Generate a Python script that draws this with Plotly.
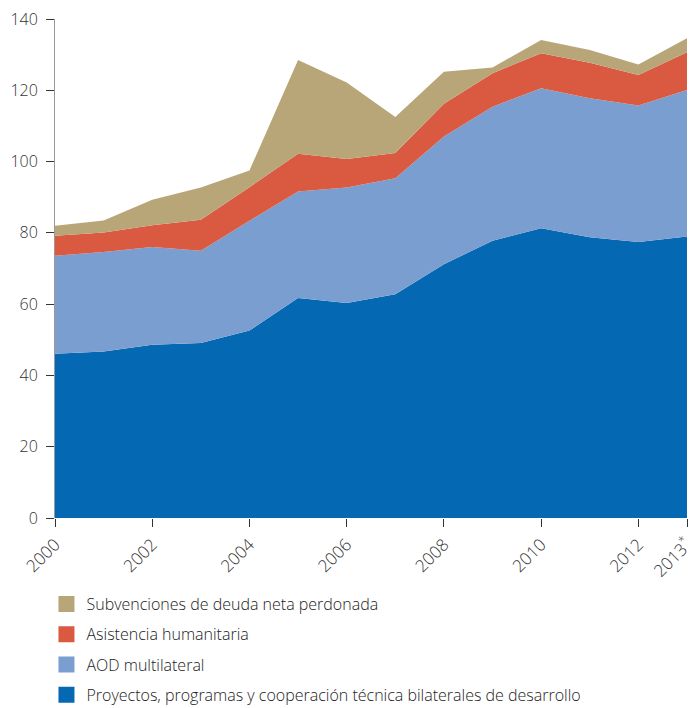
import plotly.graph_objects as go

years = [2000, 2001, 2002, 2003, 2004, 2005, 2006, 2007, 2008, 2009, 2010, 2011, 2012, 2013]
bilateral = [46.1, 46.7, 48.6, 49.1, 52.6, 61.7, 60.3, 62.8, 71.2, 77.8, 81.3, 78.8, 77.4, 79.0]
multilateral = [27.5, 27.9, 27.4, 25.9, 30.8, 29.9, 32.4, 32.5, 35.8, 37.6, 39.3, 39.0, 38.3, 41.1]
humanitarian = [5.6, 5.5, 6.1, 8.7, 9.4, 10.6, 8.0, 7.1, 9.2, 9.4, 9.8, 9.9, 8.6, 10.6]
debt = [2.8, 3.4, 7.2, 9.0, 4.7, 26.3, 21.5, 10.1, 9.0, 1.6, 3.7, 3.6, 2.9, 3.9]

tick_vals = [2000, 2002, 2004, 2006, 2008, 2010, 2012, 2013]
tick_text = ["2000", "2002", "2004", "2006", "2008", "2010", "2012", "2013<sup>*</sup>"]

names = [
    "Proyectos, programas y cooperación técnica bilaterales de desarrollo",
    "AOD multilateral",
    "Asistencia humanitaria",
    "Subvenciones de deuda neta perdonada",
]
colors = ["#0568B2", "#7A9ED0", "#DA5A41", "#B8A678"]
series = [bilateral, multilateral, humanitarian, debt]

fig = go.Figure()
for name, col, vals in zip(names, colors, series):
    fig.add_trace(go.Scatter(
        x=years, y=vals, stackgroup="one", mode="none",
        fillcolor=col, name=name, showlegend=False, hoverinfo="skip",
    ))

# legend entries (top to bottom: debt, humanitarian, multilateral, bilateral)
for i, (name, col) in enumerate(reversed(list(zip(names, colors)))):
    fig.add_trace(go.Scatter(
        x=[None], y=[None], mode="markers", name=name,
        marker=dict(symbol="square", size=17, color=col),
        legendgroup=f"g{i}", showlegend=True,
    ))

font_family = "'Open Sans', Lato, sans-serif"
fig.update_layout(
    width=695, height=708,
    margin=dict(l=55, r=8, t=19, b=190, autoexpand=False),
    paper_bgcolor="white", plot_bgcolor="white",
    font=dict(family=font_family, size=16, color="#333333", weight=300),
    showlegend=True,
    legend=dict(
        orientation="v", xref="paper", yref="paper",
        x=-0.0135, y=-0.1383, xanchor="left", yanchor="top",
        tracegroupgap=6.5, font=dict(size=16, color="#222222", weight=300),
        itemsizing="trace", bgcolor="rgba(0,0,0,0)", borderwidth=0,
    ),
    xaxis=dict(
        range=[2000, 2013], tickvals=tick_vals, ticktext=tick_text,
        tickangle=-45, ticks="outside", ticklen=8, tickcolor="#333333",
        ticklabelstandoff=1, ticklabeloverflow="allow",
        showgrid=False, zeroline=False, showline=False,
        tickfont=dict(size=17, color="#333333", weight=300),
    ),
    yaxis=dict(
        range=[0, 140], tickvals=[0, 20, 40, 60, 80, 100, 120, 140],
        ticks="outside", ticklen=8, tickcolor="#333333", ticklabelstandoff=5,
        showgrid=False, zeroline=False, showline=True, linecolor="#999999", linewidth=1,
        tickfont=dict(size=16, color="#333333", weight=300),
    ),
)

fig.write_html("out.html", config={"displayModeBar": False},
               post_script="document.body.style.margin='0px';")
